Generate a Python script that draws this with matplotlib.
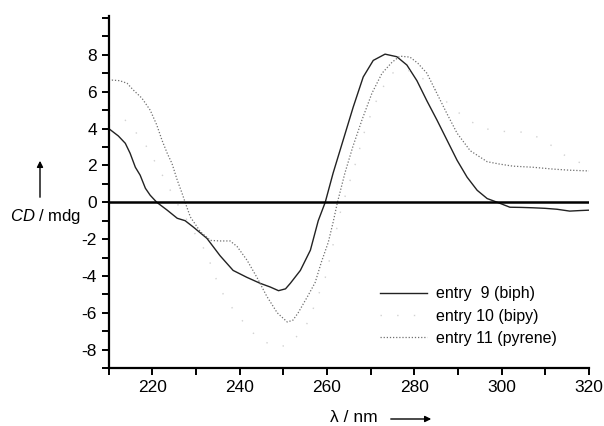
import matplotlib.pyplot as plt
from matplotlib.ticker import MultipleLocator

plt.rcParams['font.family'] = ['Liberation Sans', 'DejaVu Sans']
plt.rcParams['mathtext.fontset'] = 'custom'
plt.rcParams['mathtext.rm'] = 'Liberation Sans'
plt.rcParams['mathtext.it'] = 'Liberation Sans:italic'
plt.rcParams['axes.unicode_minus'] = False

## データ (CD spectra)
lam_biph = [210, 212.2, 213.8, 214.9, 216.1, 217.2, 218.4, 219.5, 221, 223.4, 225.7, 227.5,
            229.4, 232.5, 235.5, 238.5, 241.6, 244.7, 247, 248.9, 250.5, 251.6, 253.9, 256.2,
            258, 259.6, 261.4, 263.7, 266, 268.3, 270.6, 273.3, 276, 278.3, 280.6, 282.9,
            285.2, 287.5, 289.8, 292.1, 294.4, 296.7, 299, 301.9, 304.5, 307.2, 310, 312.7,
            315.6, 318, 320]
cd_biph = [4.0, 3.6, 3.2, 2.66, 1.9, 1.47, 0.76, 0.38, 0.0, -0.43, -0.87, -1.0,
           -1.35, -1.96, -2.9, -3.7, -4.07, -4.4, -4.6, -4.8, -4.7, -4.4, -3.7, -2.6,
           -1.0, 0.0, 1.58, 3.37, 5.16, 6.8, 7.7, 8.04, 7.9, 7.45, 6.6, 5.5,
           4.46, 3.37, 2.28, 1.36, 0.65, 0.2, 0.0, -0.27, -0.28, -0.3, -0.33, -0.38,
           -0.48, -0.45, -0.43]

lam_bipy = [210, 213.8, 218, 222, 226, 229.5, 232.5, 233.4, 234.5, 236, 239, 243.1, 245.9,
            248.6, 250.4, 253, 255.7, 258, 259.6, 260.7, 261.9, 263, 264.5, 266.4, 267.6,
            268.8, 271.1, 273.4, 274.9, 277, 280, 284, 288, 292, 296, 300, 305.4, 309.7,
            312.9, 316, 320]
cd_bipy = [4.7, 4.45, 3.3, 1.6, -0.2, -1.6, -2.8, -3.4, -4.1, -4.9, -6.0, -7.1, -7.6,
           -7.8, -7.8, -7.3, -6.5, -5.05, -4.1, -3.0, -1.8, -0.6, 0.6, 2.0, 3.0,
           4.0, 5.4, 6.5, 7.0, 7.2, 7.1, 6.3, 5.3, 4.5, 4.0, 3.85, 3.8, 3.4,
           2.8, 2.3, 2.0]

lam_pyr = [210, 210.8, 212.5, 214.2, 215.6, 217.6, 219.5, 221, 222.2, 223.4, 224.5, 225.7,
           226.8, 227.5, 228.7, 231, 233.3, 235.5, 237.8, 239.4, 241.7, 244, 246.2, 248.6,
           250.9, 252.2, 253.4, 255.7, 257.3, 258.7, 260.3, 261.4, 262.4, 264.1, 265.9, 268,
           270.3, 272.6, 274.9, 276.7, 279, 280.8, 282.9, 285.2, 287.5, 289.8, 292.8, 296.7,
           299.6, 302.6, 307.2, 311.8, 315.6, 320]
cd_pyr = [6.6, 6.63, 6.6, 6.46, 6.1, 5.65, 5.0, 4.2, 3.37, 2.66, 2.1, 1.2,
          0.49, 0.0, -0.8, -1.6, -2.07, -2.1, -2.1, -2.4, -3.15, -4.1, -5.1, -6.0,
          -6.5, -6.4, -6.0, -5.05, -4.35, -3.26, -2.17, -1.09, 0.0, 1.58, 3.0, 4.46,
          5.92, 7.0, 7.6, 7.93, 7.88, 7.55, 7.0, 5.9, 4.8, 3.75, 2.8, 2.2,
          2.07, 1.96, 1.9, 1.8, 1.74, 1.7]

labels = ['entry  9 (biph)', 'entry 10 (bipy)', 'entry 11 (pyrene)']

fig = plt.figure(figsize=(6.04, 4.26), dpi=100)
ax = fig.add_axes([0.180, 0.136, 0.795, 0.826])

ax.plot(lam_biph, cd_biph, color='#222222', lw=1.0, label=labels[0])
ax.plot(lam_bipy, cd_bipy, color='#d2d2d2', lw=1.0, ls=(0, (1, 11)), label=labels[1])
ax.plot(lam_pyr, cd_pyr, color='#707070', lw=0.9, ls=(0, (1, 1.5)), label=labels[2])
ax.axhline(0, color='black', lw=1.8)

ax.set_xlim(210, 320)
ax.set_ylim(-9, 10.1)
ax.xaxis.set_major_locator(MultipleLocator(20))
ax.xaxis.set_minor_locator(MultipleLocator(10))
ax.yaxis.set_major_locator(MultipleLocator(2))
ax.yaxis.set_minor_locator(MultipleLocator(1))
ax.set_yticks(range(-8, 9, 2))

for s in ['top', 'right']:
    ax.spines[s].set_visible(False)
for s in ['left', 'bottom']:
    ax.spines[s].set_linewidth(1.6)
ax.tick_params(which='both', direction='out', width=1.4, length=5, labelsize=12.5)

leg = ax.legend(frameon=False, fontsize=11.5, handlelength=2.9, handletextpad=0.6,
                labelspacing=0.45, loc='upper left',
                bbox_to_anchor=(366 / 604, 1 - 272 / 426), bbox_transform=fig.transFigure)

## 軸ラベルと矢印
fig.text(10 / 604, 1 - 217 / 426, r'$\it{CD}$ / mdg', fontsize=12, va='center', ha='left')
fig.text(330 / 604, 1 - 418 / 426, '\u03bb / nm', fontsize=12.5, va='center', ha='left')
ax.annotate('', xy=(40 / 604, 1 - 158 / 426), xytext=(40 / 604, 1 - 200 / 426),
            xycoords='figure fraction', textcoords='figure fraction',
            arrowprops=dict(arrowstyle='-|>', color='black', lw=1.0, mutation_scale=9))
ax.annotate('', xy=(434 / 604, 1 - 419 / 426), xytext=(388 / 604, 1 - 419 / 426),
            xycoords='figure fraction', textcoords='figure fraction',
            arrowprops=dict(arrowstyle='-|>', color='black', lw=1.0, mutation_scale=9))

plt.savefig('out.png', dpi=100)
